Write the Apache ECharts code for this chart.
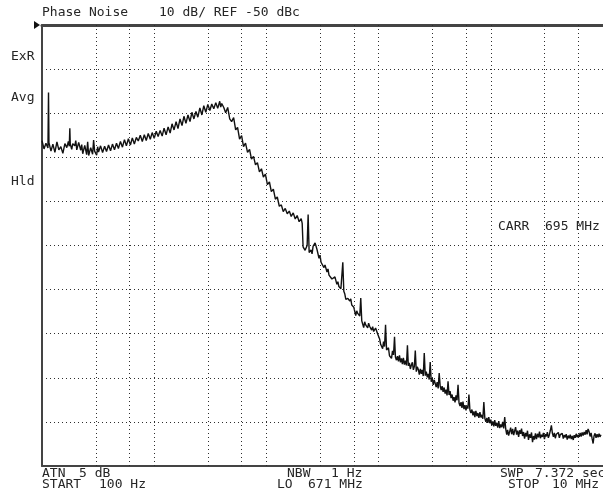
<!DOCTYPE html>
<html>
<head>
<meta charset="utf-8">
<title>Phase Noise</title>
<script src="https://cdn.jsdelivr.net/npm/echarts@6/dist/echarts.min.js"></script>
<style>
  html, body { margin: 0; padding: 0; background: #fff; }
  #chart { width: 603px; height: 493px; }
</style>
</head>
<body>
<div id="chart"></div>
<script>
// x = log10(offset frequency in Hz), y = dBc
// 100 Hz .. ~4 kHz, flat part and the hump
const closeInTrace = [
  [2.000, -76.2], [2.018, -78.1], [2.035, -76.8], [2.053, -77.9], [2.058, -65.3], [2.062, -76.7],
  [2.080, -78.6], [2.097, -77.0], [2.115, -78.9], [2.133, -76.5], [2.150, -78.3], [2.168, -77.6],
  [2.186, -79.1], [2.204, -76.9], [2.221, -77.8], [2.235, -76.4], [2.243, -77.5], [2.248, -73.4],
  [2.252, -77.0], [2.265, -78.2], [2.274, -76.9], [2.292, -77.4], [2.301, -76.2], [2.310, -78.3],
  [2.327, -76.6], [2.345, -78.4], [2.354, -77.1], [2.363, -79.2], [2.381, -77.3], [2.398, -79.4],
  [2.407, -76.5], [2.416, -79.6], [2.434, -77.8], [2.451, -79.3], [2.460, -76.1], [2.469, -78.6],
  [2.487, -79.5], [2.496, -77.6], [2.504, -78.8], [2.522, -77.4], [2.540, -78.9], [2.558, -77.5],
  [2.575, -78.7], [2.593, -77.2], [2.611, -78.5], [2.628, -77.0], [2.646, -78.3], [2.664, -76.8],
  [2.681, -78.0], [2.699, -76.4], [2.717, -77.7], [2.735, -76.0], [2.752, -77.4], [2.770, -75.8],
  [2.788, -77.2], [2.805, -75.6], [2.823, -77.0], [2.841, -75.5], [2.858, -76.3], [2.876, -75.0],
  [2.894, -76.4], [2.912, -74.9], [2.929, -76.2], [2.947, -74.6], [2.965, -75.9], [2.982, -74.4],
  [3.000, -75.7], [3.018, -74.1], [3.035, -75.3], [3.053, -73.9], [3.071, -75.2], [3.088, -73.4],
  [3.106, -74.9], [3.124, -73.1], [3.142, -74.5], [3.159, -72.4], [3.177, -73.8], [3.195, -71.9],
  [3.212, -73.5], [3.230, -71.3], [3.248, -72.8], [3.265, -70.7], [3.283, -72.3], [3.301, -70.4],
  [3.319, -71.9], [3.336, -69.8], [3.354, -71.3], [3.372, -69.6], [3.389, -70.9], [3.407, -68.8],
  [3.425, -70.4], [3.442, -68.3], [3.460, -69.8], [3.478, -68.0], [3.496, -69.4], [3.513, -67.9],
  [3.531, -69.0], [3.549, -67.6], [3.566, -68.9], [3.584, -67.3], [3.593, -68.6], [3.602, -67.8],
  [3.620, -68.7]
];
// roll-off, ~4 kHz .. 100 kHz
const rollOffTrace = [
  [3.637, -69.9], [3.655, -68.7], [3.673, -71.3], [3.690, -71.9], [3.708, -71.0], [3.726, -73.8],
  [3.743, -73.2], [3.761, -75.9], [3.779, -75.1], [3.796, -77.6], [3.814, -76.8], [3.832, -78.9],
  [3.850, -78.2], [3.867, -80.4], [3.885, -79.8], [3.903, -81.7], [3.920, -81.2], [3.938, -83.3],
  [3.956, -82.6], [3.973, -84.5], [3.991, -83.8], [4.009, -86.2], [4.027, -85.6], [4.044, -87.8],
  [4.062, -87.2], [4.080, -89.5], [4.097, -89.0], [4.115, -91.1], [4.133, -90.8], [4.150, -92.3],
  [4.168, -91.6], [4.186, -92.8], [4.204, -92.2], [4.221, -93.4], [4.239, -92.6], [4.257, -94.0],
  [4.274, -93.2], [4.292, -94.6], [4.310, -93.9], [4.319, -95.0], [4.327, -100.3], [4.345, -101.1],
  [4.363, -100.0], [4.372, -93.0], [4.381, -101.6], [4.398, -101.0], [4.407, -101.9], [4.416, -100.2],
  [4.434, -99.4], [4.451, -100.9], [4.469, -102.9], [4.478, -102.2], [4.487, -103.8], [4.504, -103.9],
  [4.513, -105.0], [4.522, -104.4], [4.540, -106.0], [4.549, -105.3], [4.558, -106.7], [4.575, -106.5],
  [4.584, -107.6], [4.593, -107.9], [4.611, -107.1], [4.628, -108.8], [4.637, -108.2], [4.646, -109.3],
  [4.664, -109.8], [4.681, -103.8], [4.690, -110.4], [4.699, -111.0], [4.708, -112.2], [4.726, -112.0],
  [4.743, -112.6], [4.752, -112.1], [4.761, -113.5], [4.779, -114.0], [4.796, -115.9], [4.805, -114.8],
  [4.814, -115.4], [4.832, -116.0], [4.841, -111.9], [4.850, -117.1], [4.867, -118.6], [4.876, -117.3],
  [4.885, -118.0], [4.903, -118.7], [4.911, -117.6], [4.920, -118.3], [4.938, -119.2], [4.947, -118.4],
  [4.956, -119.5], [4.973, -118.7], [4.991, -120.0]
];
// spur comb, 100 kHz .. ~1.3 MHz
const spurTrace = [
  [5.009, -121.2], [5.018, -122.4], [5.027, -122.0], [5.036, -123.4], [5.044, -121.8], [5.053, -122.9],
  [5.062, -118.0], [5.071, -123.7], [5.080, -124.1], [5.088, -123.2], [5.097, -125.0], [5.106, -124.6],
  [5.115, -125.6], [5.124, -123.9], [5.133, -124.8], [5.142, -120.7], [5.150, -125.3], [5.159, -126.0],
  [5.168, -125.1], [5.177, -126.3], [5.186, -124.9], [5.195, -126.5], [5.204, -125.6], [5.212, -126.9],
  [5.221, -125.5], [5.230, -127.0], [5.239, -126.1], [5.248, -127.2], [5.257, -122.6], [5.265, -127.3],
  [5.274, -126.6], [5.283, -128.0], [5.292, -127.1], [5.301, -126.5], [5.310, -128.2], [5.319, -127.4],
  [5.327, -123.8], [5.336, -128.6], [5.345, -127.5], [5.354, -128.1], [5.363, -129.3], [5.372, -128.0],
  [5.381, -129.1], [5.389, -128.2], [5.398, -129.6], [5.407, -124.4], [5.416, -129.5], [5.425, -128.6],
  [5.434, -129.9], [5.442, -129.1], [5.451, -130.4], [5.460, -126.4], [5.469, -130.9], [5.478, -130.0],
  [5.487, -131.6], [5.496, -130.5], [5.504, -131.2], [5.513, -132.1], [5.522, -131.0], [5.531, -132.4],
  [5.540, -128.9], [5.549, -131.9], [5.558, -132.8], [5.566, -131.9], [5.575, -133.2], [5.584, -132.2],
  [5.593, -133.6], [5.602, -132.7], [5.610, -134.0], [5.619, -130.8], [5.628, -133.9], [5.637, -133.0],
  [5.646, -134.6], [5.655, -133.8], [5.664, -135.2], [5.673, -134.4], [5.681, -135.6], [5.690, -134.0],
  [5.699, -135.1], [5.708, -131.6], [5.717, -135.7], [5.726, -136.4], [5.735, -135.5], [5.743, -136.8],
  [5.752, -135.4], [5.761, -137.1], [5.770, -136.2], [5.779, -137.4], [5.788, -136.3], [5.796, -137.0],
  [5.805, -133.8], [5.814, -137.3], [5.823, -138.0], [5.832, -137.2], [5.841, -138.5], [5.850, -137.6],
  [5.858, -138.9], [5.867, -137.5], [5.876, -138.7], [5.885, -138.0], [5.894, -139.1], [5.903, -137.8],
  [5.912, -139.0], [5.920, -138.4], [5.929, -139.3], [5.938, -135.5], [5.947, -139.2], [5.956, -140.0],
  [5.965, -139.1], [5.973, -140.2], [5.982, -138.9], [5.991, -140.3], [6.000, -139.5], [6.009, -140.8],
  [6.018, -139.9], [6.027, -141.0], [6.035, -139.6], [6.044, -140.9], [6.053, -140.2], [6.062, -141.3],
  [6.071, -139.8], [6.080, -141.4], [6.088, -140.6], [6.097, -141.2], [6.106, -140.0], [6.115, -141.5],
  [6.124, -138.9]
];
// noise floor up to 10 MHz
const floorTrace = [
  [6.133, -141.6], [6.142, -142.9], [6.150, -141.8], [6.159, -143.1], [6.168, -142.2], [6.177, -141.3],
  [6.186, -142.8], [6.195, -141.6], [6.204, -143.0], [6.212, -142.1], [6.221, -141.2], [6.230, -142.9],
  [6.239, -142.0], [6.248, -143.4], [6.257, -141.9], [6.266, -142.7], [6.274, -141.5], [6.283, -143.2],
  [6.292, -142.3], [6.301, -143.8], [6.310, -142.5], [6.319, -143.3], [6.327, -142.0], [6.336, -144.1],
  [6.345, -142.8], [6.354, -143.6], [6.363, -142.4], [6.372, -144.6], [6.381, -143.2], [6.389, -144.0],
  [6.398, -142.6], [6.407, -143.9], [6.416, -142.7], [6.425, -143.5], [6.434, -142.2], [6.442, -143.7],
  [6.451, -142.9], [6.460, -143.4], [6.469, -142.5], [6.478, -143.9], [6.487, -142.8], [6.496, -143.3],
  [6.504, -142.3], [6.513, -143.6], [6.522, -142.9], [6.531, -141.9], [6.540, -140.8], [6.549, -142.6],
  [6.558, -143.4], [6.566, -142.5], [6.575, -143.7], [6.584, -142.8], [6.593, -143.2], [6.602, -142.4],
  [6.611, -143.6], [6.619, -142.9], [6.628, -143.3], [6.637, -142.6], [6.646, -143.8], [6.655, -143.0],
  [6.664, -143.5], [6.672, -142.8], [6.681, -144.0], [6.690, -143.1], [6.699, -143.7], [6.708, -142.9],
  [6.717, -143.9], [6.726, -143.2], [6.735, -144.1], [6.743, -143.0], [6.752, -143.6], [6.761, -142.7],
  [6.770, -143.5], [6.779, -142.9], [6.788, -143.4], [6.796, -142.5], [6.805, -143.3], [6.814, -142.4],
  [6.823, -143.1], [6.832, -142.3], [6.841, -142.9], [6.850, -141.9], [6.858, -142.8], [6.867, -141.6],
  [6.876, -142.2], [6.885, -143.3], [6.894, -142.5], [6.903, -143.8], [6.912, -144.9], [6.920, -143.2],
  [6.929, -142.6], [6.938, -143.6], [6.947, -142.8], [6.956, -143.5], [6.965, -142.7], [6.973, -143.4],
  [6.982, -142.9]
];

// vertical graticule (Hz)
const gridHz = [300, 600, 1e3, 3e3, 6e3, 1e4, 3e4, 6e4, 1e5, 3e5, 6e5, 1e6, 3e6, 6e6];

const refLevel = -50;   // dBc, top of screen
const dbPerDiv = 10;
const divisions = 10;

const trace = closeInTrace.concat(rollOffTrace, spurTrace, floorTrace);

const mono = '13px "DejaVu Sans Mono", "Liberation Mono", monospace';
const ink = '#262626';
const dots = { color: '#2e2e2e', width: 1, type: [1, 3] };

function label(text, x, y) {
  return {
    type: 'text',
    x: x,
    y: y,
    silent: true,
    style: { text: text, font: mono, fill: ink, verticalAlign: 'middle' }
  };
}

const chart = echarts.init(document.getElementById('chart'), null, { renderer: 'canvas' });

chart.setOption({
  animation: false,
  backgroundColor: '#fff',
  grid: { left: 42, top: 25, width: 565, height: 441 },
  xAxis: [{
    type: 'value',
    min: 2,
    max: 7,
    position: 'bottom',
    axisLine: { show: true, onZero: false, lineStyle: { color: '#444', width: 2 } },
    axisTick: { show: false },
    axisLabel: { show: false },
    splitLine: { show: false }
  }, {
    type: 'value',
    min: 2,
    max: 7,
    position: 'top',
    axisLine: { show: true, onZero: false, lineStyle: { color: '#444', width: 3 } },
    axisTick: { show: false },
    axisLabel: { show: false },
    splitLine: { show: false }
  }],
  yAxis: {
    type: 'value',
    min: refLevel - dbPerDiv * divisions,
    max: refLevel,
    interval: dbPerDiv,
    axisLine: { show: true, onZero: false, lineStyle: { color: '#444', width: 2 } },
    axisTick: { show: false },
    axisLabel: { show: false },
    splitLine: { show: true, lineStyle: dots }
  },
  series: [{
    // graticule only
    type: 'line',
    data: [],
    z: 1,
    markLine: {
      silent: true,
      symbol: ['none', 'none'],
      label: { show: false },
      lineStyle: dots,
      data: gridHz.map(f => ({ xAxis: Math.log10(f) }))
    }
  }, {
    name: 'Phase Noise',
    type: 'line',
    z: 3,
    data: trace,
    showSymbol: false,
    symbol: 'none',
    lineStyle: { color: '#111', width: 1.4 }
  }],
  graphic: [
    { type: 'polygon', silent: true, shape: { points: [[34, 21], [40, 25], [34, 29]] }, style: { fill: '#111' } },
    label('Phase Noise', 42, 13),
    label('10 dB/ REF -50 dBc', 159, 13),
    label('ExR', 11, 57),
    label('Avg', 11, 98),
    label('Hld', 11, 182),
    label('CARR', 498, 227),
    label('695 MHz', 545, 227),
    label('ATN', 42, 474),
    label('5 dB', 79, 474),
    label('NBW', 287, 474),
    label('1 Hz', 331, 474),
    label('SWP', 500, 474),
    label('7.372 sec', 535, 474),
    label('START', 42, 485),
    label('100 Hz', 99, 485),
    label('LO', 277, 485),
    label('671 MHz', 308, 485),
    label('STOP', 508, 485),
    label('10 MHz', 552, 485)
  ]
});
</script>
</body>
</html>
